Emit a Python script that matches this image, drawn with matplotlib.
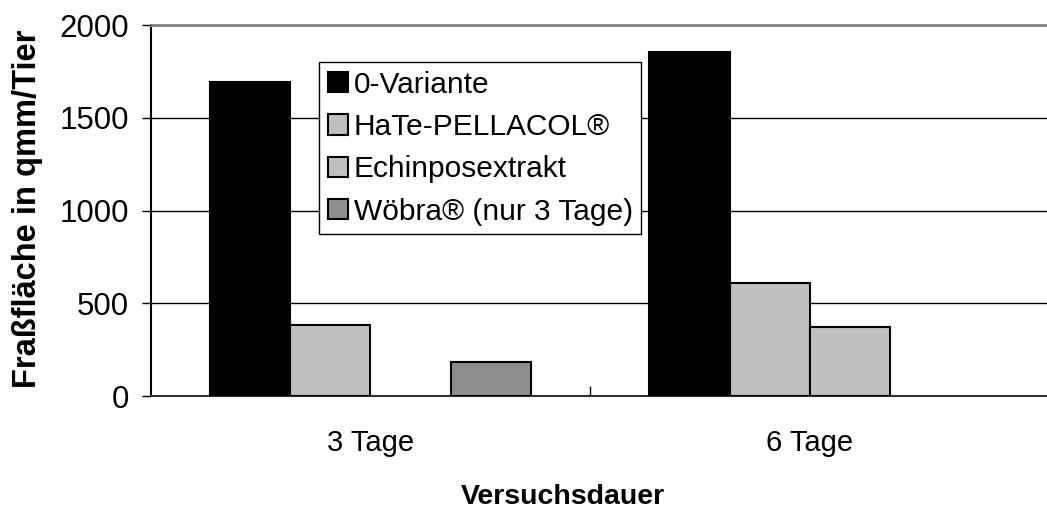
import numpy as np
import matplotlib
matplotlib.use('Agg')
import matplotlib.pyplot as plt
from matplotlib.ticker import FixedLocator

plt.rcParams['font.family'] = ['Liberation Sans', 'DejaVu Sans']

# Daten
kategorien = ['3 Tage', '6 Tage']
serien = ['0-Variante', 'HaTe-PELLACOL®', 'Echinposextrakt', 'Wöbra® (nur 3 Tage)']
null_variante = [1694, 1856]
hate_pellacol = [381, 611]
echinpos = [np.nan, 370]
woebra = [185, np.nan]
farben = ['#000000', '#c0c0c0', '#c0c0c0', '#8f8f8f']

werte = [null_variante, hate_pellacol, echinpos, woebra]

fig = plt.figure(figsize=(10.47, 5.11), dpi=100)
ax = fig.add_axes([150.7 / 1047, 1 - 396 / 511, 1 - 150.7 / 1047, (396 - 25) / 511])

x = np.arange(len(kategorien)) + 0.5
w = 0.1826
for i, (name, v, c) in enumerate(zip(serien, werte, farben)):
    ax.bar(x + (i - 1.5) * w, v, width=w, color=c, edgecolor='black',
           linewidth=1.5, label=name, zorder=3)

ax.set_xlim(0, 2.04)
ax.set_ylim(0, 2000)
ax.set_yticks([0, 500, 1000, 1500, 2000])
ax.set_xticks(x)
ax.set_xticklabels(kategorien)
ax.xaxis.set_minor_locator(FixedLocator([1.0]))

for yv in [500, 1000, 1500]:
    ax.axhline(yv, color='black', linewidth=1.0, zorder=1)

ax.tick_params(axis='y', direction='out', length=6.5, width=1, pad=9, labelsize=22.5)
ax.tick_params(axis='x', which='major', length=0, pad=24, labelsize=21)
ax.tick_params(axis='x', which='minor', direction='in', length=7, width=1)

ax.spines['right'].set_visible(False)
ax.spines['top'].set_color('#808080')
ax.spines['top'].set_linewidth(2)
ax.spines['left'].set_linewidth(1.5)
ax.spines['bottom'].set_linewidth(1.5)
ax.spines['bottom'].set_color('#303030')

fig.text(27.5 / 1047, 1 - 209 / 511, 'Fraßfläche in qmm/Tier', rotation=90,
         fontsize=23.5, fontweight='bold', ha='center', va='center')
fig.text(563 / 1047, 1 - 497 / 511, 'Versuchsdauer',
         fontsize=20.5, fontweight='bold', ha='center', va='center')

leg = ax.legend(loc='upper left', bbox_to_anchor=(319.3 / 1047, 1 - 62.3 / 511),
                bbox_transform=fig.transFigure, fontsize=21.5, frameon=True,
                fancybox=False, framealpha=1, edgecolor='black',
                handlelength=0.68, handleheight=0.68, handletextpad=0.2,
                borderpad=0.28, labelspacing=0.48, borderaxespad=0)
leg.get_frame().set_linewidth(1.0)
leg.set_zorder(5)

fig.savefig('out.png', dpi=100)
